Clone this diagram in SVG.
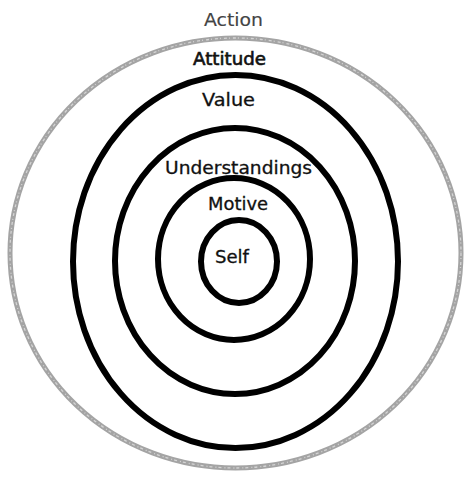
<svg xmlns="http://www.w3.org/2000/svg" width="465" height="479" viewBox="0 0 465 479">
<style>
.ring{fill:none;stroke:#000;stroke-width:6}
.outer{fill:none;stroke:#a4a4a4;stroke-width:5}
.outer2{fill:none;stroke:#d4d4d4;stroke-width:1.3;stroke-dasharray:3 2 1 3}
.lbl{font-family:"DejaVu Sans","Liberation Sans",sans-serif;font-size:17px;text-anchor:middle;fill:#111;stroke:#111;stroke-width:0.3}
</style>
<rect width="465" height="479" fill="#fff"/>
<g id="action">
<ellipse class="outer" cx="235.5" cy="253" rx="225.5" ry="215"/>
<ellipse class="outer2" cx="235.5" cy="253" rx="225.5" ry="215"/>
<text class="lbl" x="233.5" y="26" textLength="59" lengthAdjust="spacingAndGlyphs" style="fill:#444;stroke:#444;stroke-width:0.15">Action</text>
</g>
<g id="attitude">
<text class="lbl" x="229.5" y="65" textLength="73" lengthAdjust="spacingAndGlyphs" style="stroke-width:0.6">Attitude</text>
</g>
<g id="value">
<ellipse class="ring" cx="235.5" cy="261.5" rx="162.5" ry="186.5"/>
<text class="lbl" x="228.5" y="106" textLength="53" lengthAdjust="spacingAndGlyphs">Value</text>
</g>
<g id="understandings">
<ellipse class="ring" cx="235" cy="261" rx="120" ry="133"/>
<text class="lbl" x="238.5" y="174" textLength="147" lengthAdjust="spacingAndGlyphs">Understandings</text>
</g>
<g id="motive">
<ellipse class="ring" cx="234" cy="259" rx="76" ry="81"/>
<text class="lbl" x="238" y="210" textLength="60" lengthAdjust="spacingAndGlyphs">Motive</text>
</g>
<g id="self">
<ellipse class="ring" cx="239" cy="261.5" rx="38" ry="41.5"/>
<text class="lbl" x="232" y="263" textLength="34" lengthAdjust="spacingAndGlyphs">Self</text>
</g>
<g id="connectors"/>
</svg>
